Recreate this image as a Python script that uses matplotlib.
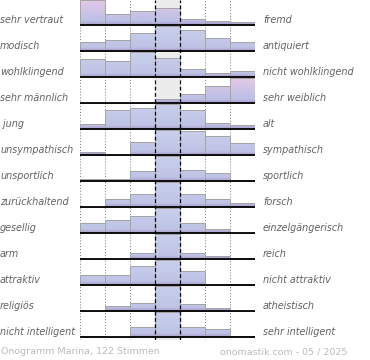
import numpy as np
import matplotlib
matplotlib.use("Agg")
import matplotlib.pyplot as plt
from matplotlib.colors import to_rgb

left_labels = ["sehr vertraut", "modisch", "wohlklingend", "sehr männlich", " jung",
               "unsympathisch", "unsportlich", "zurückhaltend", "gesellig", "arm",
               "attraktiv", "religiös", "nicht intelligent"]
right_labels = ["fremd", "antiquiert", "nicht wohlklingend", "sehr weiblich", "alt",
                "sympathisch", "sportlich", "forsch", "einzelgängerisch", "reich",
                "nicht attraktiv", "atheistisch", "sehr intelligent"]

# relative answer counts per row (7 bins)
votes = [
    [25, 11, 14, 16.7, 6.3, 4.3, 3],
    [9, 11, 18.3, 25, 21, 13, 9],
    [18, 16, 25, 18.7, 8, 4, 6],
    [0, 0, 0.5, 4, 9, 16.7, 25],
    [5, 19, 20.7, 25, 19, 6.3, 3.7],
    [3.3, 0.5, 12.7, 25, 23.7, 18.7, 12],
    [2, 2, 10.3, 25, 10.7, 8, 1.5],
    [0, 8, 12.7, 25, 12.7, 8, 3.7],
    [10, 13.3, 16.7, 25, 10, 4, 0],
    [0, 0, 6, 25, 6, 2.7, 1.5],
    [9.7, 9.7, 19, 25, 14, 0, 1.5],
    [0, 5.3, 7.7, 25, 6.7, 3.3, 0],
    [1, 0, 10, 25, 10, 8.3, 1],
]
pink_rows = [0, 3]

footer_left = "Onogramm Marina, 122 Stimmen"
footer_right = "onomastik.com - 05 / 2025"

W, H = 370, 360
fig = plt.figure(figsize=(W / 100, H / 100), dpi=100)
ax = fig.add_axes([80 / W, 1 - 340 / H, 175 / W, 340 / H])
nrows = len(votes)
ax.set_xlim(0, 7)
ax.set_ylim(nrows + 3 / 26, 1 - 25 / 26)
ax.axis("off")

ax.axvspan(3, 4, color="#ececec", zorder=0)
for xv in [0, 1, 2, 5, 6, 7]:
    ax.axvline(xv, color="#777777", ls=(0, (1, 2)), lw=0.7, zorder=1)


def gradient(top_c, mid_c, bot_c, n=60):
    top_c, mid_c, bot_c = map(np.array, map(to_rgb, (top_c, mid_c, bot_c)))
    t = np.linspace(0, 1, n)[:, None]
    g = np.where(t < 0.85, top_c + (mid_c - top_c) * (t / 0.85),
                 mid_c + (bot_c - mid_c) * ((t - 0.85) / 0.15))
    return g[:, None, :]


blue_grad = gradient("#c9cfec", "#bfc4e6", "#a89dcb")
pink_grad = gradient("#e4c8e6", "#bcc0e6", "#a89dcb")

full = 25 / 26
for i, row in enumerate(votes):
    base = i + 1
    m = max(row)
    hs = np.array(row) / m * full
    bars = ax.bar(np.arange(7), hs, width=1, bottom=base - hs, align="edge",
                  facecolor="none", edgecolor="#a4a4a4", lw=0.7, zorder=3)
    grad = pink_grad if i in pink_rows else blue_grad
    for b, h in zip(bars, hs):
        if h <= 0:
            continue
        im = ax.imshow(grad, extent=(0, 7, base, base - full), aspect="auto",
                       interpolation="bilinear", zorder=2)
        im.set_clip_path(b)
    ax.plot([0, 7], [base, base], color="black", lw=1.3, zorder=4,
            solid_capstyle="butt")
    ax.text(-3.2, base - 0.2, left_labels[i], ha="left", va="center",
            fontsize=6.9, style="italic", color="#626262")
    ax.text(7.32, base - 0.2, right_labels[i], ha="left", va="center",
            fontsize=6.9, style="italic", color="#626262")

ax.set_xlim(0, 7)
ax.set_ylim(nrows + 3 / 26, 1 - 25 / 26)
for xv in [3, 4]:
    ax.axvline(xv, color="black", ls=(0, (3, 2)), lw=0.9, zorder=5)

fig.text(1 / W, 1 - 352 / H, footer_left, ha="left", va="center",
         fontsize=6.8, color="#bbbbbb")
fig.text(347 / W, 1 - 352 / H, footer_right, ha="right", va="center",
         fontsize=6.8, color="#bbbbbb")

fig.savefig("out.png", dpi=100)
